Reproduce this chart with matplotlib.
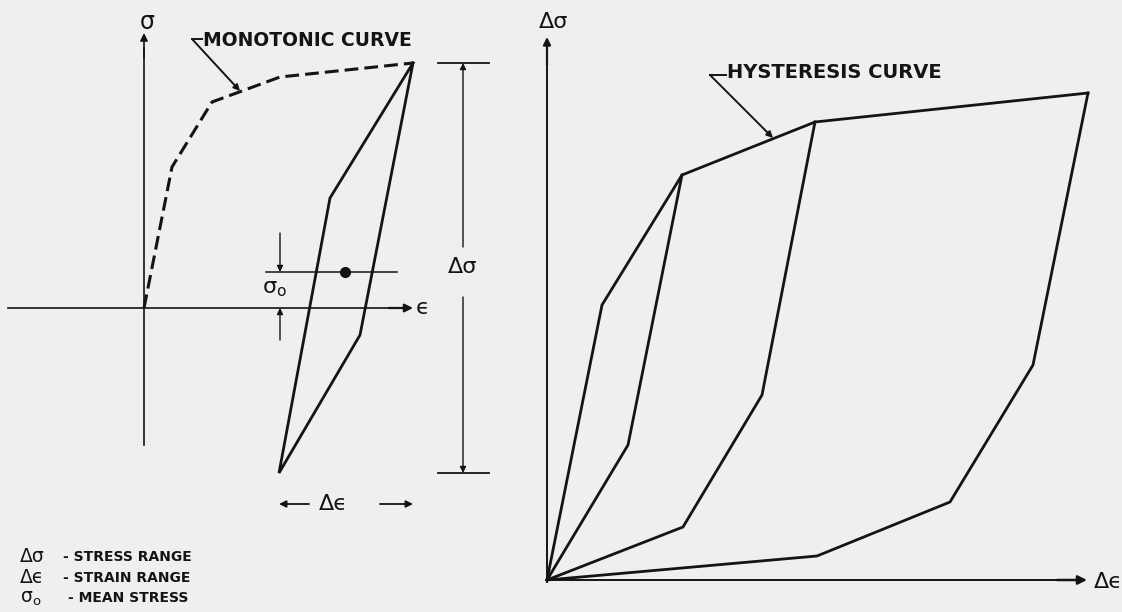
import matplotlib.pyplot as plt

plt.rcParams['font.family'] = ['DejaVu Sans']
plt.rcParams['mathtext.fontset'] = 'dejavusans'

INK = '#141414'
PAPER = '#efefef'

# ---- left sketch: cyclic loop on the stress-strain plane ----
mono_eps = [0.0, 0.28, 0.68, 1.36, 2.69]
mono_sig = [0.0, 1.41, 2.06, 2.31, 2.45]

loop_eps = [2.69, 1.86, 1.35, 2.16, 2.69]
loop_sig = [2.45, 1.10, -1.65, -0.27, 2.45]

mean_eps = 2.01
mean_sig = 0.36

# ---- right sketch: family of hysteresis loops from a common origin ----
env_deps = [0.0, 0.55, 1.35, 2.68, 5.41]
env_dsig = [0.0, 2.75, 4.05, 4.58, 4.87]

branches = [
    ([0.0, 0.81, 1.35], [0.0, 1.35, 4.05]),
    ([0.0, 1.36, 2.15, 2.68], [0.0, 0.53, 1.85, 4.58]),
    ([0.0, 2.70, 4.03, 4.86, 5.41], [0.0, 0.24, 0.78, 2.15, 4.87]),
]

SIG0 = r'$\mathrm{\sigma_o}$'
legend_rows = [
    ('Δσ', '- STRESS RANGE'),
    ('Δϵ', '- STRAIN RANGE'),
    (SIG0, '- MEAN STRESS'),
]

fig = plt.figure(figsize=(11.22, 6.12), dpi=100, facecolor=PAPER)

# 1 data unit = 100 px in both panels
axl = fig.add_axes([0, 0, 530 / 1122, 1])
axl.set_xlim(-1.44, 3.86)
axl.set_ylim(-3.04, 3.08)
axr = fig.add_axes([530 / 1122, 0, 592 / 1122, 1])
axr.set_xlim(-0.17, 5.75)
axr.set_ylim(-0.32, 5.80)
for ax in (axl, axr):
    ax.axis('off')
    ax.set_facecolor('none')


def arrow(ax, start, tip, lw=1.2, size=11):
    ax.annotate('', xy=tip, xytext=start,
                arrowprops=dict(arrowstyle='-|>', color=INK, lw=lw,
                                mutation_scale=size, shrinkA=0, shrinkB=0))


def sym(ax, x, y, s, size=15):
    ax.text(x, y, s, fontsize=size, color=INK, ha='center', va='center')


# axes of the left sketch
axl.plot([0, 0], [-1.37, 2.6], color=INK, lw=1.2)
arrow(axl, (0, 2.5), (0, 2.75))
axl.plot([-1.36, 2.5], [0, 0], color=INK, lw=1.2)
arrow(axl, (2.45, 0), (2.69, 0), lw=1.6, size=12)
sym(axl, 0.03, 2.86, 'σ', 17)
sym(axl, 2.79, 0.0, 'ϵ', 16)

# monotonic curve and the stabilised loop
axl.plot(mono_eps, mono_sig, color=INK, lw=2.2, dashes=(4.5, 2.0))
axl.plot(loop_eps, loop_sig, color=INK, lw=2.0, solid_joinstyle='miter')

# mean stress line, dot and its dimension arrows
axl.plot([1.22, 2.53], [mean_sig, mean_sig], color=INK, lw=1.1)
axl.plot(mean_eps, mean_sig, 'o', color=INK, ms=7)
arrow(axl, (1.36, 0.75), (1.36, mean_sig), lw=1.0, size=9)
arrow(axl, (1.36, -0.32), (1.36, 0.0), lw=1.0, size=9)
sym(axl, 1.30, 0.19, SIG0, 16)

# stress range dimension
top, bot = max(loop_sig), min(loop_sig)
axl.plot([2.94, 3.45], [top, top], color=INK, lw=1.3)
axl.plot([2.94, 3.45], [bot, bot], color=INK, lw=1.3)
arrow(axl, (3.19, 0.61), (3.19, top), lw=1.0, size=9)
arrow(axl, (3.19, 0.11), (3.19, bot), lw=1.0, size=9)
sym(axl, 3.19, 0.41, 'Δσ', 16)

# strain range dimension
axl.annotate('', xy=(min(loop_eps), -1.96), xytext=(1.65, -1.96),
             arrowprops=dict(arrowstyle='-|>', color=INK, lw=1.3, mutation_scale=10,
                             shrinkA=0, shrinkB=0))
axl.annotate('', xy=(max(loop_eps), -1.96), xytext=(2.36, -1.96),
             arrowprops=dict(arrowstyle='-|>', color=INK, lw=1.3, mutation_scale=10,
                             shrinkA=0, shrinkB=0))
sym(axl, 1.89, -1.96, 'Δϵ', 16)

# leader for the monotonic curve
axl.plot([0.58, 0.48], [2.69, 2.69], color=INK, lw=1.4)
arrow(axl, (0.48, 2.69), (0.96, 2.17), lw=1.4, size=9)
axl.text(0.59, 2.68, 'MONOTONIC CURVE', fontsize=13.5, fontweight='bold',
         color=INK, ha='left', va='center')

# key in the lower left corner
for i, (s, desc) in enumerate(legend_rows):
    y = -2.49 - 0.205 * i
    axl.text(-1.24, y, s, fontsize=13.5, color=INK, ha='left', va='center')
    axl.text(-0.81 if i < 2 else -0.76, y, desc, fontsize=10, fontweight='bold',
             color=INK, ha='left', va='center')

# axes of the right sketch
axr.plot([0, 0], [-0.02, 5.2], color=INK, lw=1.4)
arrow(axr, (0, 5.15), (0, 5.43), lw=1.6, size=11)
axr.plot([0, 5.2], [0, 0], color=INK, lw=1.4)
arrow(axr, (5.1, 0), (5.40, 0), lw=1.8, size=13)
sym(axr, 0.07, 5.58, 'Δσ', 16)
sym(axr, 5.61, -0.02, 'Δϵ', 16)

# envelope and unloading branches
axr.plot(env_deps, env_dsig, color=INK, lw=2.0, solid_joinstyle='miter')
for de, ds in branches:
    axr.plot(de, ds, color=INK, lw=2.0, solid_joinstyle='miter')

# leader for the hysteresis curve
axr.plot([1.79, 1.63], [5.05, 5.05], color=INK, lw=1.4)
arrow(axr, (1.63, 5.05), (2.26, 4.42), lw=1.4, size=9)
axr.text(1.80, 5.07, 'HYSTERESIS CURVE', fontsize=14, fontweight='bold',
         color=INK, ha='left', va='center')

fig.savefig('out.png', dpi=100, facecolor=PAPER)
